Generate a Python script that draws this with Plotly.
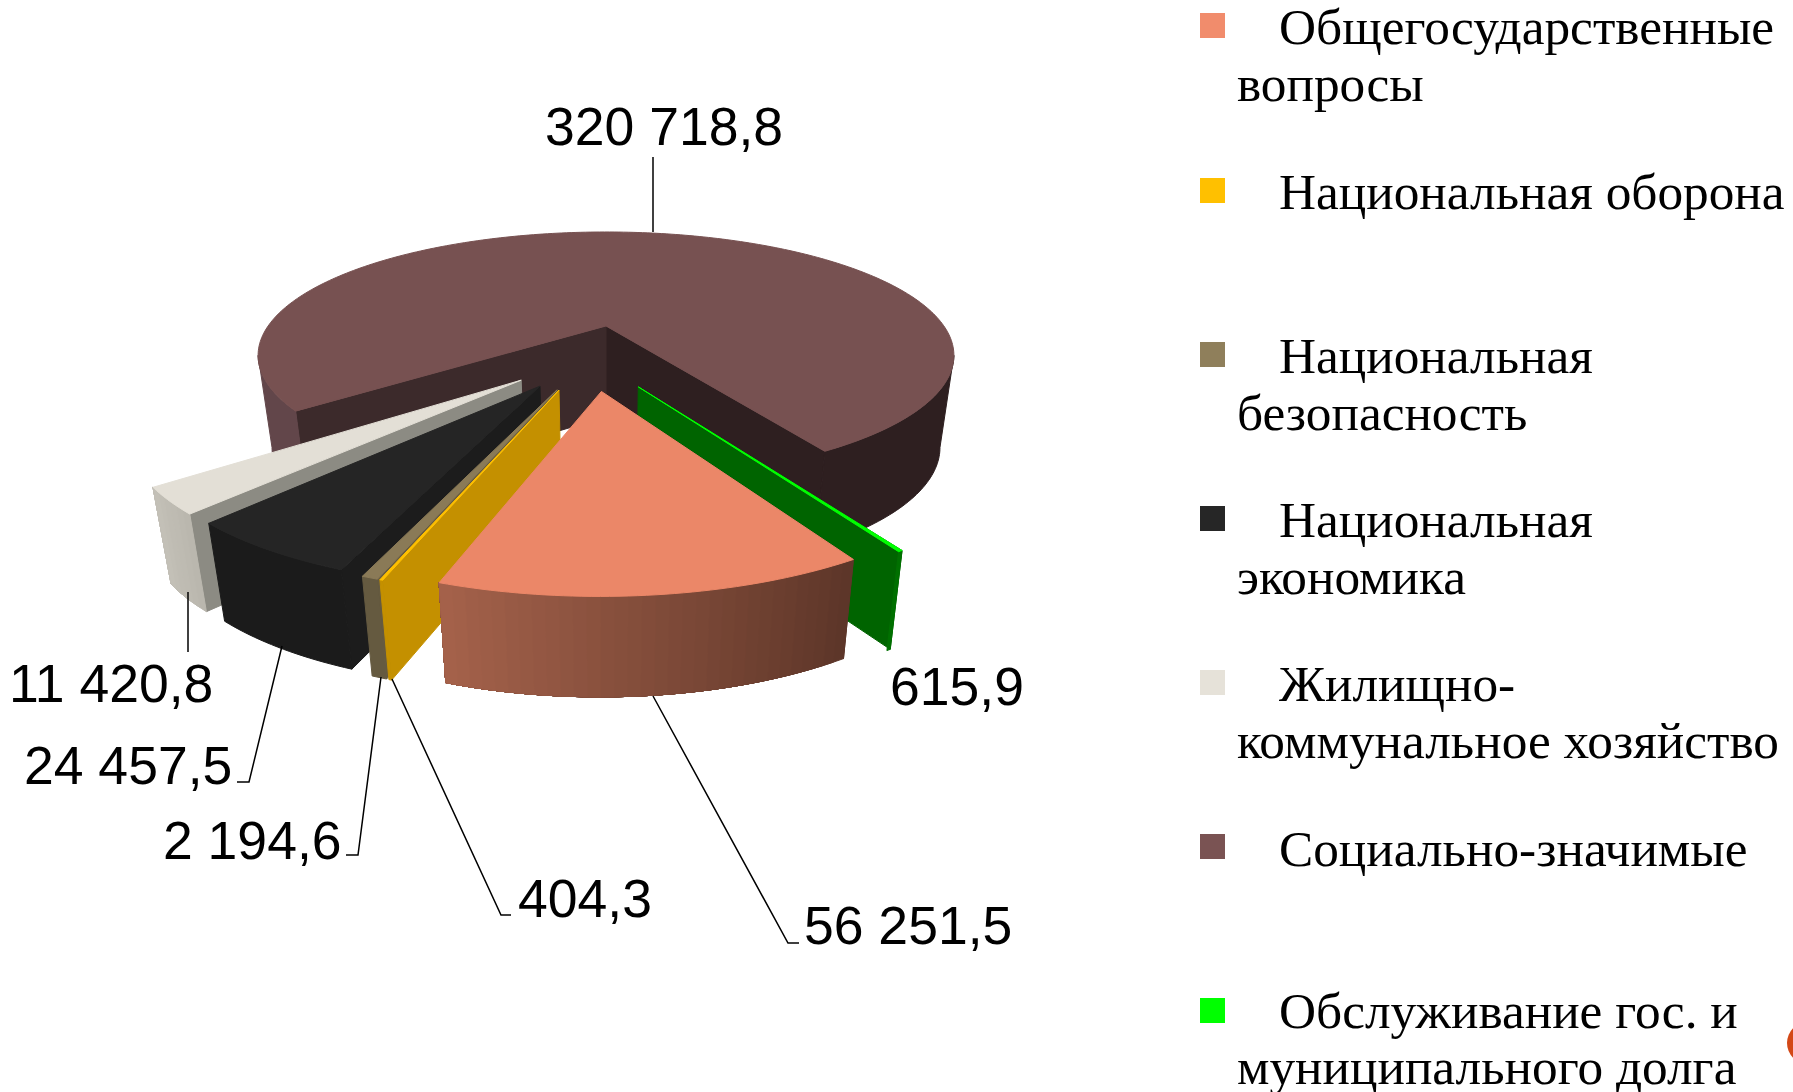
import math
import plotly.graph_objects as go

# ---------- data ----------
categories = [
    "Общегосударственные вопросы", "Национальная оборона", "Национальная безопасность",
    "Национальная экономика", "Жилищно-коммунальное хозяйство", "Социально-значимые",
    "Обслуживание гос. и муниципального долга",
]
values = [56251.5, 404.3, 2194.6, 24457.5, 11420.8, 320718.8, 615.9]

# ---------- style ----------
top_colors = ["#EB8768", "#FFC000", "#8A7A57", "#252525", "#E3DFD6", "#775151", "#00FF00"]
legend_colors = ["#F18C6C", "#FFC000", "#8F7F5B", "#262626", "#E6E2D9", "#7A5353", "#00FF00"]
cut_colors = ["#5C3528", "#C49000", "#655A40", "#1C1C1C", "#8C8B83", "#3C2A2B", "#006400"]
wall_left = ["#A5624B", "#C49000", "#655A40", "#1B1B1B", "#C4C1B8", "#62464A", "#007000"]
wall_right = ["#5C3528", "#C49000", "#655A40", "#1B1B1B", "#B9B6AD", "#2E1F20", "#007000"]
explode_u = [-0.012, -0.123, -0.128, -0.174, -0.226, 0.0, 0.085]
explode_v = [0.496, 0.487, 0.485, 0.460, 0.419, 0.0, 0.465]
draw_order = [5, 6, 4, 3, 2, 1, 0]
first_angle = 149.5

CX, CY, R, RB, K = 606.0, 326.0, 337.9, 116.4, 0.238
W, H = 1793, 1092


def project(u, v):
    w = 1 - K * v
    return CX + R * u / w, CY + RB * v / w


def drop(p):
    x, y = p
    return CX + 0.96 * (x - CX), y + 92 + 0.035 * (y - 355)


def hex_mix(a, b, t):
    ca = [int(a[i:i + 2], 16) for i in (1, 3, 5)]
    cb = [int(b[i:i + 2], 16) for i in (1, 3, 5)]
    return "#%02X%02X%02X" % tuple(round(x + (y - x) * t) for x, y in zip(ca, cb))


fig = go.Figure()


def poly(points, color, name=None):
    fig.add_trace(go.Scatter(
        x=[p[0] for p in points] + [points[0][0]],
        y=[p[1] for p in points] + [points[0][1]],
        mode="lines", fill="toself", fillcolor=color,
        line=dict(color=color, width=1, simplify=False), hoverinfo="skip", showlegend=False, name=name))


total = sum(values)
starts, a = [], first_angle
for v in values:
    starts.append(a)
    a += v / total * 360


def rim(i, ang):
    t = math.radians(ang)
    return project(explode_u[i] + math.sin(t), explode_v[i] - math.cos(t))


def wall(i, b0, b1, color):
    steps = max(1, int((b1 - b0) / 1.0))
    upper = [rim(i, b0 + (b1 - b0) * j / steps) for j in range(steps + 1)]
    poly(upper + [drop(p) for p in reversed(upper)], color)


# angle at which the near wall of the cylinder meets its silhouette
silhouette = math.degrees(math.acos(-K))

for i in draw_order:
    a0 = starts[i]
    a1 = a0 + values[i] / total * 360
    apex = project(explode_u[i], explode_v[i])
    # radial cut faces
    r0, r1 = rim(i, a0), rim(i, a1)
    if i == 5:
        poly([apex, r1, drop(r1), drop(apex)], "#2E1F20")
    poly([apex, r0, drop(r0), drop(apex)], cut_colors[i])
    # outer wall
    if i == 5:
        # only the near parts of the wall show, one on each side of the gap
        wall(i, a0, 360 - silhouette, wall_left[i])
        wall(i, silhouette, a1 - 360, wall_right[i])
    elif wall_left[i] == wall_right[i]:
        wall(i, a0, a1, wall_left[i])
    else:
        # each band runs on to the far end of the slice, so no seam can show between bands
        n = max(1, int((a1 - a0) / 1.5))
        for j in range(n):
            wall(i, a0 + (a1 - a0) * j / n, a1, hex_mix(wall_right[i], wall_left[i], (j + 0.5) / n))
    # top
    m = max(2, int((a1 - a0) / 1.0))
    poly([apex] + [rim(i, a0 + (a1 - a0) * j / m) for j in range(m + 1)], top_colors[i], categories[i])


# ---------- value labels ----------
def fmt(v):
    return f"{v:,.1f}".replace(",", " ").replace(".", ",")


label_pos = [(908, 925), (585, 898), (252, 840), (128, 765), (111, 683), (664, 126), (957, 686)]
leaders = [
    [(653, 696), (788, 943), (799, 943)],
    [(392, 679), (501, 915), (511, 915)],
    [(381, 677), (358, 855), (346, 855)],
    [(282, 646), (249, 782), (237, 782)],
    [(188, 592), (188, 652)],
    [(653, 157), (653, 232)],
    [],
]
for v, (lx, ly), pts in zip(values, label_pos, leaders):
    fig.add_annotation(x=lx, y=ly, text=fmt(v), showarrow=False, xanchor="center", yanchor="middle",
                       font=dict(family="Liberation Sans", size=53.5, color="#000000"))
    if pts:
        fig.add_trace(go.Scatter(x=[p[0] for p in pts], y=[p[1] for p in pts], mode="lines",
                                 line=dict(color="#000000", width=1.5), hoverinfo="skip", showlegend=False))

# ---------- legend ----------
legend_lines = [
    [("Общегосударственные", 1277, 43), ("вопросы", 1235, 100)],
    [("Национальная оборона", 1277, 208)],
    [("Национальная", 1277, 372), ("безопасность", 1235, 429)],
    [("Национальная", 1277, 536), ("экономика", 1235, 593)],
    [("Жилищно-", 1277, 700), ("коммунальное хозяйство", 1235, 757)],
    [("Социально-значимые", 1277, 865)],
    [("Обслуживание гос. и", 1277, 1027), ("муниципального долга", 1235, 1083)],
]
legend_top = [13, 178, 342, 506, 670, 834, 998]
shapes = []
for col, y0, lines in zip(legend_colors, legend_top, legend_lines):
    shapes.append(dict(type="rect", xref="x", yref="y", x0=1200, x1=1225, y0=y0, y1=y0 + 25,
                       fillcolor=col, line=dict(width=0)))
    for txt, x, base in lines:
        fig.add_annotation(x=x, y=base - 17, text=txt, showarrow=False, xanchor="left", yanchor="middle",
                           font=dict(family="Liberation Serif", size=51.3, color="#000000"))
shapes.append(dict(type="circle", xref="x", yref="y", x0=1787, x1=1829, y0=1022, y1=1064,
                   fillcolor="#D34817", line=dict(width=0)))

fig.update_layout(
    width=W, height=H, margin=dict(l=0, r=0, t=0, b=0), paper_bgcolor="#FFFFFF", plot_bgcolor="#FFFFFF",
    xaxis=dict(range=[0, W], visible=False, fixedrange=True),
    yaxis=dict(range=[H, 0], visible=False, fixedrange=True),
    shapes=shapes, showlegend=False,
)
fig.write_html("out.html", config=dict(displayModeBar=False),
               post_script="document.body.style.margin='0';document.body.style.overflow='hidden';")
